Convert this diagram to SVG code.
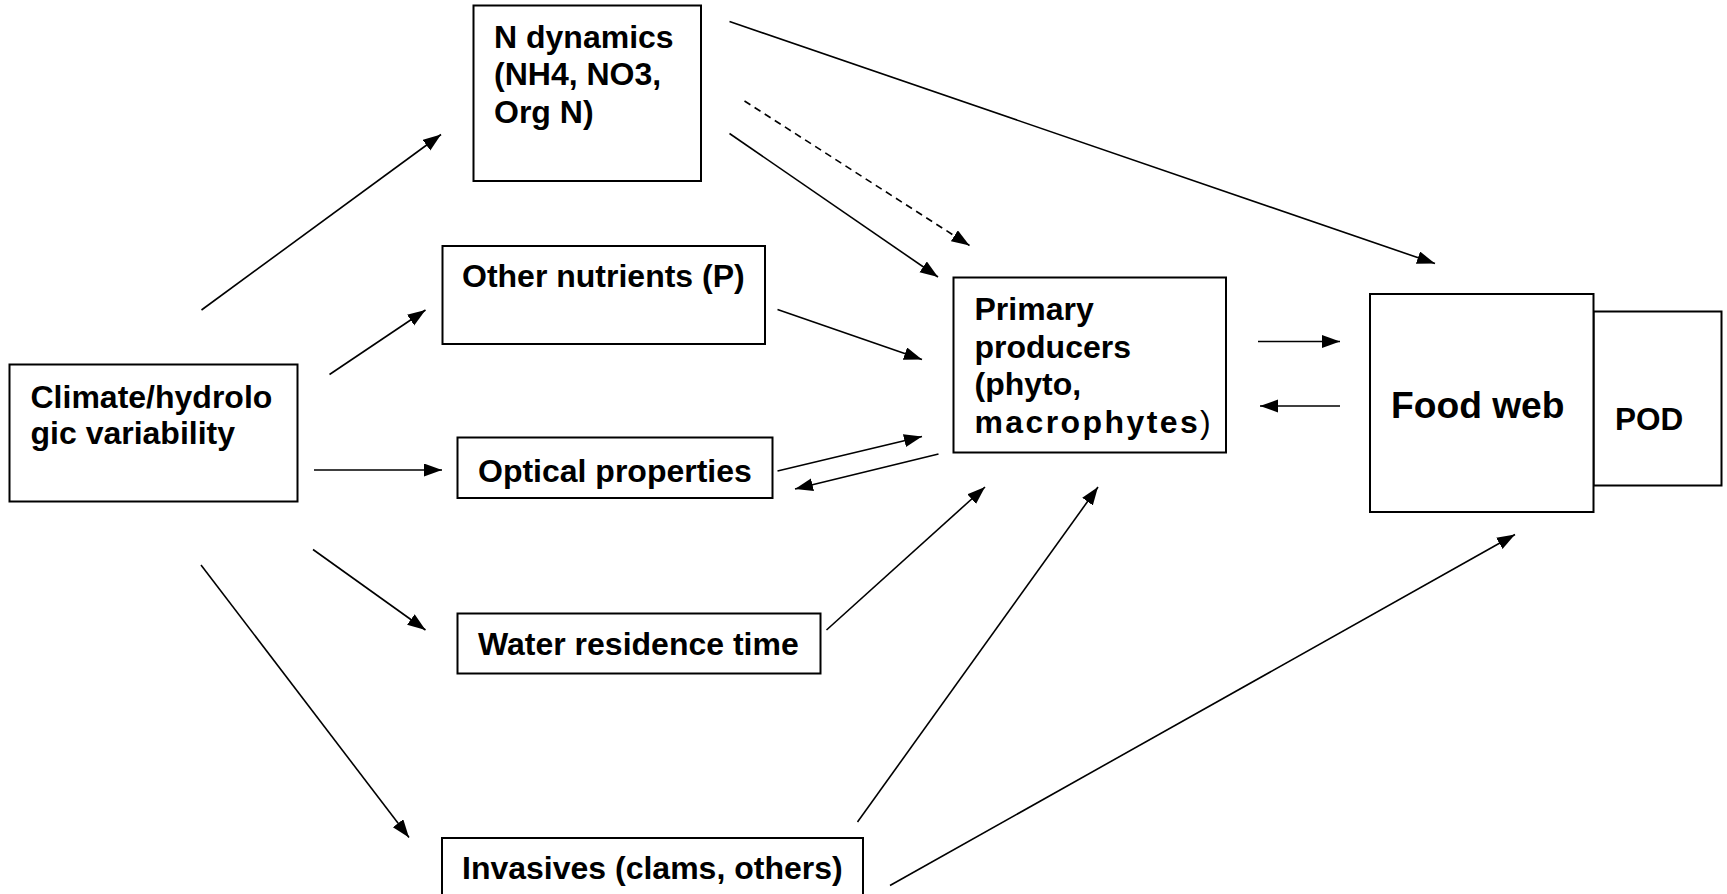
<svg xmlns="http://www.w3.org/2000/svg" width="1727" height="894" viewBox="0 0 1727 894">
<defs>
<style>
.box{fill:#fff;stroke:#000;stroke-width:2}
.t{font-family:"Liberation Sans",Arial,sans-serif;font-weight:bold;font-size:32px;fill:#000}
.c{stroke:#000;stroke-width:1.6;fill:none;marker-end:url(#ah)}
.d{stroke-dasharray:7 5}
</style>
<marker id="ah" markerUnits="userSpaceOnUse" markerWidth="20" markerHeight="14" refX="18" refY="6.5" orient="auto">
<path d="M0,0 L18,6.5 L0,13 z" fill="#000"/>
</marker>
</defs>
<rect width="1727" height="894" fill="#fff"/>
<g id="climate">
<rect class="box" x="9.5" y="364.5" width="288" height="137"/>
<text class="t" x="30.5" y="408">Climate/hydrolo</text>
<text class="t" x="30.5" y="444">gic variability</text>
</g>
<g id="ndyn">
<rect class="box" x="473.5" y="5.5" width="227.5" height="175.5"/>
<text class="t" x="494" y="47.5">N dynamics</text>
<text class="t" x="494" y="85">(NH4, NO3,</text>
<text class="t" x="494" y="122.5">Org N)</text>
</g>
<g id="othernut">
<rect class="box" x="442.5" y="246" width="322.5" height="98"/>
<text class="t" x="462" y="287">Other nutrients (P)</text>
</g>
<g id="optical">
<rect class="box" x="457.5" y="437.5" width="315" height="60.5"/>
<text class="t" x="478" y="481.5">Optical properties</text>
</g>
<g id="water">
<rect class="box" x="457.5" y="613.5" width="363" height="60"/>
<text class="t" x="478" y="655">Water residence time</text>
</g>
<g id="invasives">
<rect class="box" x="442" y="838" width="421" height="62"/>
<text class="t" x="462" y="879">Invasives (clams, others)</text>
</g>
<g id="primary">
<rect class="box" x="953.5" y="277.5" width="272.5" height="175"/>
<text class="t" x="974.5" y="320">Primary</text>
<text class="t" x="974.5" y="357.5">producers</text>
<text class="t" x="974.5" y="395">(phyto,</text>
<text class="t" x="974.5" y="433"><tspan letter-spacing="2.4">macrophytes</tspan><tspan font-weight="normal">)</tspan></text>
</g>
<g id="pod">
<rect class="box" x="1593.5" y="311.5" width="128" height="174"/>
<text class="t" x="1615" y="430" style="font-size:31.5px">POD</text>
</g>
<g id="foodweb">
<rect class="box" x="1370" y="294" width="223.5" height="218"/>
<text class="t" x="1391" y="417.5" style="font-size:37.2px">Food web</text>
</g>
<g id="connectors">
<line class="c" x1="201.5" y1="310" x2="441" y2="134.5"/>
<line class="c" x1="329.5" y1="374.5" x2="425.5" y2="310"/>
<line class="c" x1="314" y1="470" x2="442" y2="470"/>
<line class="c" x1="313" y1="549.5" x2="425.5" y2="630"/>
<line class="c" x1="201" y1="565" x2="409" y2="837.5"/>
<line class="c" x1="729.5" y1="21.5" x2="1435" y2="263.5"/>
<line class="c d" x1="744.5" y1="101" x2="969.5" y2="245.5"/>
<line class="c" x1="729.5" y1="133.5" x2="938" y2="277"/>
<line class="c" x1="777.5" y1="309.5" x2="922" y2="359.5"/>
<line class="c" x1="777.5" y1="471" x2="922" y2="436.5"/>
<line class="c" x1="938.5" y1="454" x2="795" y2="489"/>
<line class="c" x1="1258" y1="341.5" x2="1340" y2="341.5"/>
<line class="c" x1="1340" y1="406" x2="1260" y2="406"/>
<line class="c" x1="826.5" y1="630" x2="985" y2="487"/>
<line class="c" x1="857.5" y1="822" x2="1098" y2="487"/>
<line class="c" x1="890" y1="885.5" x2="1515" y2="534.5"/>
</g>
</svg>
